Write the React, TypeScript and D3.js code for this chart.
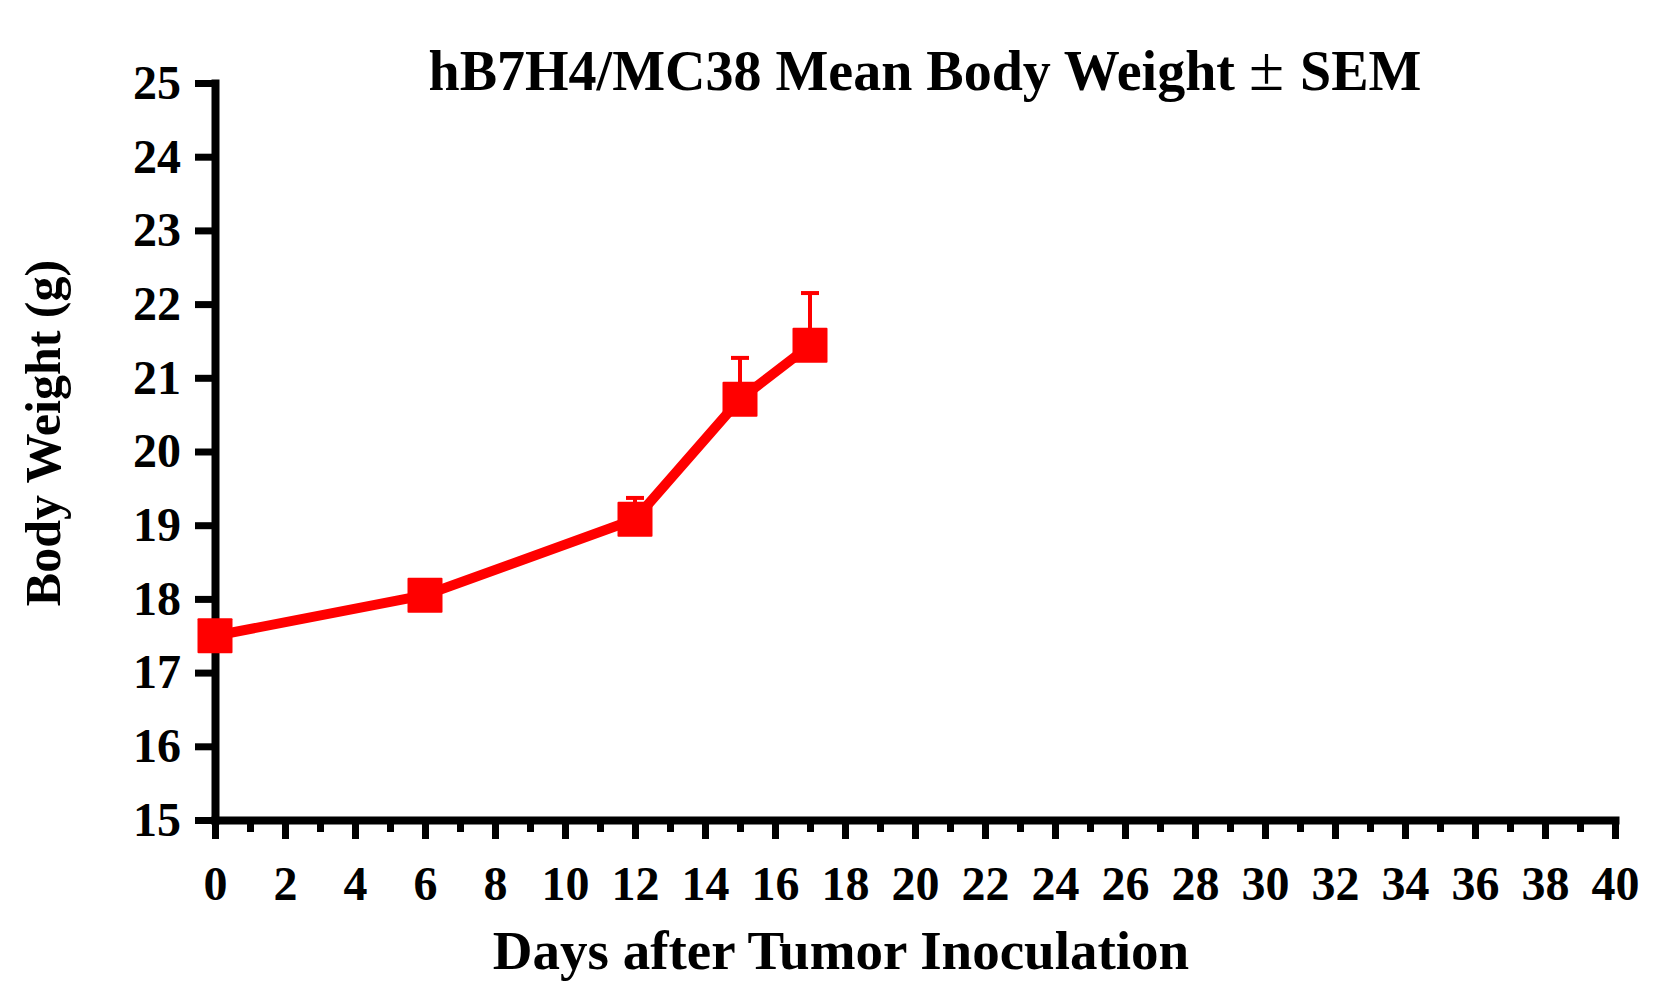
import React, { useEffect, useRef } from 'react';
import * as d3 from 'd3';

// body weight data (mean ± SEM)
const days = [0, 6, 12, 15, 17];
const meanWeight = [17.5, 18.05, 19.08, 20.71, 21.44];
const semWeight = [0.08, 0.08, 0.29, 0.56, 0.71];

const yTicks = [15, 16, 17, 18, 19, 20, 21, 22, 23, 24, 25];
const xTicks = [0, 2, 4, 6, 8, 10, 12, 14, 16, 18, 20, 22, 24, 26, 28, 30, 32, 34, 36, 38, 40];
const xMinorTicks = d3.range(1, 40, 2);

const title = 'hB7H4/MC38 Mean Body Weight';
const xTitle = 'Days after Tumor Inoculation';
const yTitle = 'Body Weight (g)';

const W = 1678;
const H = 994;
const FONT = "'Liberation Serif', 'Times New Roman', serif";
const RED = '#ff0000';

const App: React.FC = () => {
  const ref = useRef<SVGSVGElement>(null);

  useEffect(() => {
    const svg = d3.select(ref.current);
    svg.selectAll('*').remove();

    const x = d3.scaleLinear().domain([0, 40]).range([215, 1615]);
    const y = d3.scaleLinear().domain([15, 25]).range([820, 83]);

    const data = days.map((d, i) => ({ day: d, mean: meanWeight[i], sem: semWeight[i] }));

    // y axis
    const yAxis = svg.append('g')
      .attr('transform', `translate(${x(0)},0)`)
      .call(d3.axisLeft(y).tickValues(yTicks).tickSize(20).tickSizeOuter(0).tickPadding(14));

    // x axis minor ticks
    svg.append('g')
      .attr('transform', `translate(0,${y(15)})`)
      .call(d3.axisBottom(x).tickValues(xMinorTicks).tickSize(12).tickFormat(() => ''))
      .call(g => g.select('.domain').remove());

    // x axis major
    const xAxis = svg.append('g')
      .attr('transform', `translate(0,${y(15)})`)
      .call(d3.axisBottom(x).tickValues(xTicks).tickSize(19).tickSizeOuter(0).tickPadding(27));

    svg.selectAll('.domain').attr('stroke', '#000').attr('stroke-width', 8).attr('stroke-linecap', 'square');
    svg.selectAll('.tick line').attr('stroke', '#000').attr('stroke-width', 7);
    [xAxis, yAxis].forEach(g => g.selectAll('.tick text')
      .attr('fill', '#000')
      .style('font-family', FONT)
      .style('font-weight', 'bold')
      .style('font-size', '48px'));

    // connecting line
    const line = d3.line<{ day: number; mean: number }>()
      .x(d => x(d.day))
      .y(d => y(d.mean));

    svg.append('path')
      .datum(data)
      .attr('d', line)
      .attr('fill', 'none')
      .attr('stroke', RED)
      .attr('stroke-width', 10);

    // error bars (upper only)
    const eb = svg.append('g').attr('stroke', RED);
    eb.selectAll('line.bar')
      .data(data)
      .enter().append('line')
      .attr('class', 'bar')
      .attr('x1', d => x(d.day))
      .attr('x2', d => x(d.day))
      .attr('y1', d => y(d.mean))
      .attr('y2', d => y(d.mean + d.sem))
      .attr('stroke-width', 4);
    eb.selectAll('line.cap')
      .data(data)
      .enter().append('line')
      .attr('class', 'cap')
      .attr('x1', d => x(d.day) - 9)
      .attr('x2', d => x(d.day) + 9)
      .attr('y1', d => y(d.mean + d.sem))
      .attr('y2', d => y(d.mean + d.sem))
      .attr('stroke-width', 4);

    // square markers
    const s = 35;
    svg.append('g')
      .selectAll('rect')
      .data(data)
      .enter().append('rect')
      .attr('x', d => x(d.day) - s / 2)
      .attr('y', d => y(d.mean) - s / 2)
      .attr('width', s)
      .attr('height', s)
      .attr('rx', 1)
      .attr('fill', RED);

    // titles
    const t = svg.append('text')
      .attr('x', 925)
      .attr('y', 90)
      .attr('text-anchor', 'middle')
      .style('font-family', FONT)
      .style('font-weight', 'bold')
      .style('font-size', '56px')
      .text(title + ' ');
    t.append('tspan').style('font-weight', 'normal').style('font-size', '64px').text(' ± ');
    t.append('tspan').text(' SEM');

    svg.append('text')
      .attr('x', 841)
      .attr('y', 969)
      .attr('text-anchor', 'middle')
      .style('font-family', FONT)
      .style('font-weight', 'bold')
      .style('font-size', '55px')
      .text(xTitle);

    svg.append('text')
      .attr('transform', 'translate(60,433) rotate(-90)')
      .attr('text-anchor', 'middle')
      .style('font-family', FONT)
      .style('font-weight', 'bold')
      .style('font-size', '50px')
      .text(yTitle);
  }, []);

  return (
    <svg
      ref={ref}
      width={W}
      height={H}
      style={{ position: 'absolute', left: 0, top: 0, background: '#fff', display: 'block' }}
    />
  );
};

export default App;
